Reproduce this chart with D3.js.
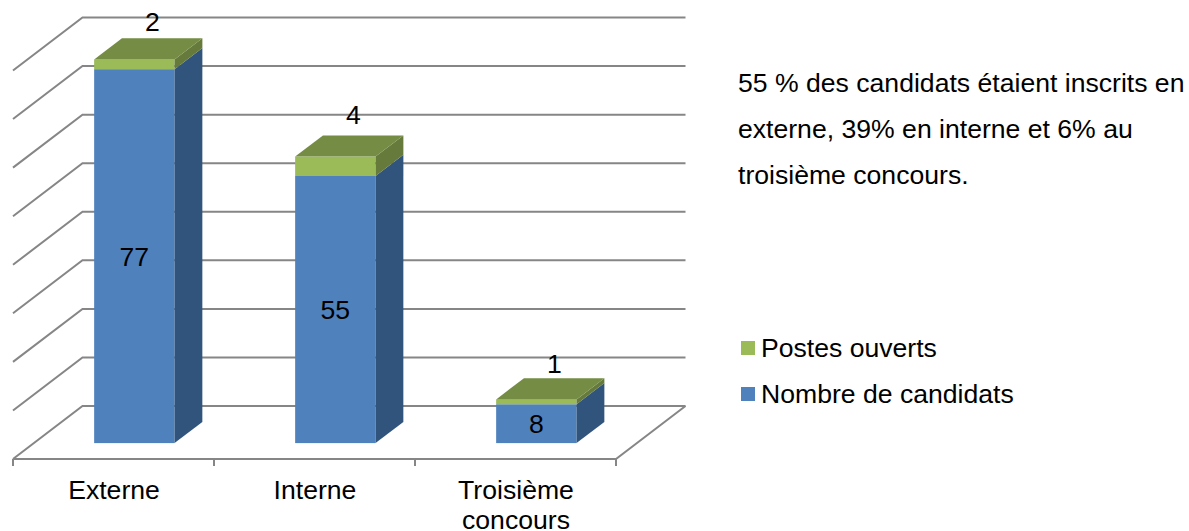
<!DOCTYPE html>
<html>
<head>
<meta charset="utf-8">
<script src="https://cdnjs.cloudflare.com/ajax/libs/d3/7.8.5/d3.min.js"></script>
<style>
  html, body { margin: 0; padding: 0; background: #fff; }
  text { font-family: "Liberation Sans", Arial, sans-serif; fill: #000; }
</style>
</head>
<body>
<div id="chart"></div>
<script>
// Data
const categories = ["Externe", "Interne", "Troisième concours"];
const nombreCandidats = [77, 55, 8];
const postesOuverts = [2, 4, 1];
const yTicks = [0, 10, 20, 30, 40, 50, 60, 70, 80];
const legendLabels = ["Postes ouverts", "Nombre de candidats"];
const noteLines = [
    "55 % des candidats étaient inscrits en",
    "externe, 39% en interne et 6% au",
    "troisième concours."
];

const width = 1189;
const height = 531;
const fontSize = 26.6;

const svg = d3.select("#chart")
    .append("svg")
    .attr("width", width)
    .attr("height", height)
    .style("display", "block");

// Scales, front plane of the floor
const x = d3.scaleBand()
    .domain(categories)
    .range([13, 616]);

const y = d3.scaleLinear()
    .domain([0, 80])
    .range([459, 70.5]);

// Depth: 0 is the front plane, 1 the back wall
const depthX = d3.scaleLinear().domain([0, 1]).range([0, 69.5]);
const depthY = d3.scaleLinear().domain([0, 1]).range([0, -53]);

const px = (xv, d) => xv + depthX(d);
const py = (yv, d) => yv + depthY(d);
const pts = a => a.map(p => p.join(",")).join(" ");

// Walls and gridlines
const gridColor = "#868686";
const grid = svg.append("g").attr("fill", "none").attr("stroke", gridColor).attr("stroke-width", 2);

grid.selectAll("polyline.wall")
    .data(yTicks)
    .enter()
    .append("polyline")
    .attr("class", "wall")
    .attr("points", d => pts([
        [px(x.range()[0], 0), py(y(d), 0)],
        [px(x.range()[0], 1), py(y(d), 1)],
        [px(x.range()[1], 1), py(y(d), 1)]
    ]));

grid.append("polyline")
    .attr("points", pts([
        [px(x.range()[0], 0), y(0)],
        [px(x.range()[1], 0), y(0)],
        [px(x.range()[1], 1), py(y(0), 1)]
    ]));

// Category ticks
grid.selectAll("line.tick")
    .data([...categories.map(c => x(c)), x.range()[1]])
    .enter()
    .append("line")
    .attr("class", "tick")
    .attr("x1", d => d)
    .attr("x2", d => d)
    .attr("y1", y(0))
    .attr("y2", y(0) + 7);

// Bars
const barFrac = 0.4;
const depth0 = 0.3;
const depth1 = 0.7;
const barW = x.bandwidth() * barFrac;
const barLeft = c => x(c) + (x.bandwidth() - barW) / 2;

const colors = {
    blue: { front: "#4f81bd", side: "#31547d" },
    green: { front: "#9bbb59", side: "#667b3b", top: "#748c43" }
};

function drawSegment(g, c, v0, v1, col, withTop) {
    const l = barLeft(c) + depthX(depth0);
    const r = l + barW;
    const dx = depthX(depth1) - depthX(depth0);
    const dy = depthY(depth1) - depthY(depth0);
    const yb = py(y(v0), depth0);
    const yt = py(y(v1), depth0);
    g.append("rect")
        .attr("x", l).attr("y", yt)
        .attr("width", barW).attr("height", yb - yt)
        .attr("fill", col.front);
    g.append("polygon")
        .attr("points", pts([[r, yb], [r + dx, yb + dy], [r + dx, yt + dy], [r, yt]]))
        .attr("fill", col.side);
    if (withTop) {
        g.append("polygon")
            .attr("points", pts([[l, yt], [l + dx, yt + dy], [r + dx, yt + dy], [r, yt]]))
            .attr("fill", col.top);
    }
}

const bars = svg.append("g");
categories.forEach((c, i) => {
    const g = bars.append("g");
    drawSegment(g, c, 0, nombreCandidats[i], colors.blue, false);
    drawSegment(g, c, nombreCandidats[i], nombreCandidats[i] + postesOuverts[i], colors.green, true);
});

// Value labels
const labels = svg.append("g")
    .attr("text-anchor", "middle")
    .attr("font-size", fontSize);

categories.forEach((c, i) => {
    const cx = barLeft(c) + depthX(depth0) + barW / 2;
    const top = py(y(nombreCandidats[i] + postesOuverts[i]), depth0);
    const seam = py(y(nombreCandidats[i]), depth0);
    const base = py(y(0), depth0);
    labels.append("text")
        .attr("x", cx)
        .attr("y", (seam + base) / 2)
        .attr("dy", "0.36em")
        .text(nombreCandidats[i]);
    labels.append("text")
        .attr("x", cx + 18)
        .attr("y", top - 34 - 0.42 * (seam - top))
        .attr("dy", "0.36em")
        .text(postesOuverts[i]);
});

// Category labels, last one wraps on two lines
const catLabels = svg.append("g")
    .attr("text-anchor", "middle")
    .attr("font-size", fontSize);

categories.forEach(c => {
    const t = catLabels.append("text").attr("y", 498.5);
    c.split(" ").forEach((w, j) => {
        t.append("tspan")
            .attr("x", x(c) + x.bandwidth() / 2 + 0.5)
            .attr("dy", j ? 30 : 0)
            .text(w);
    });
});

// Note on the right
svg.append("g")
    .attr("font-size", fontSize)
    .selectAll("text")
    .data(noteLines)
    .enter()
    .append("text")
    .attr("x", 738)
    .attr("y", (d, i) => 92 + i * 46)
    .text(d => d);

// Legend
const legendColors = [colors.green.front, colors.blue.front];
const legend = svg.append("g")
    .selectAll("g")
    .data(legendLabels)
    .enter()
    .append("g")
    .attr("transform", (d, i) => `translate(741,${341 + i * 46})`);

legend.append("rect")
    .attr("width", 14)
    .attr("height", 14)
    .attr("fill", (d, i) => legendColors[i]);

legend.append("text")
    .attr("x", 20)
    .attr("y", 16)
    .attr("font-size", fontSize)
    .text(d => d);
</script>
</body>
</html>
